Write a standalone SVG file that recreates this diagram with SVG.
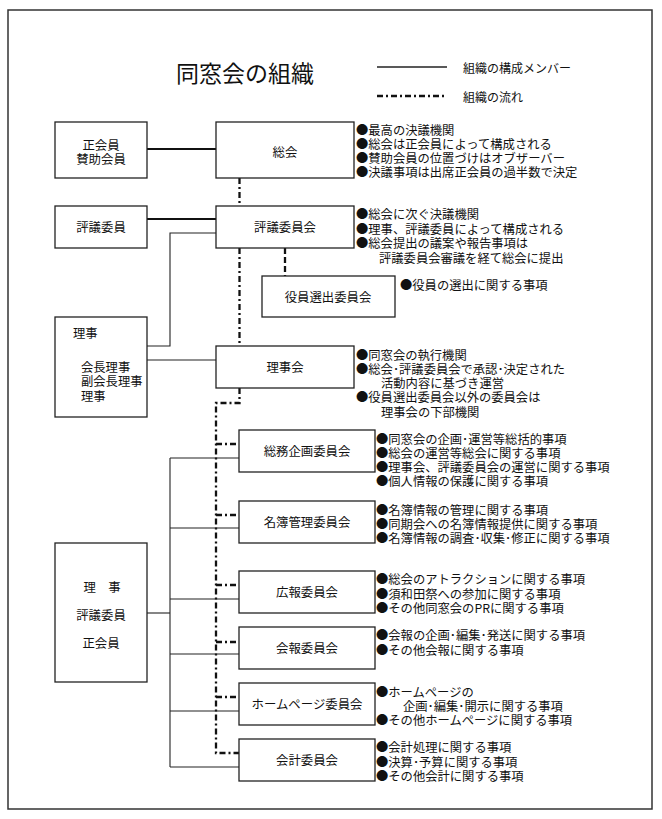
<svg xmlns="http://www.w3.org/2000/svg" width="662" height="819" viewBox="0 0 662 819">
<style>
text{font-family:"Noto Sans CJK JP","Noto Sans CJK SC",sans-serif;fill:#111;dominant-baseline:central}
.lb{font-size:12.4px;text-anchor:middle}
.nt{font-size:12.3px}
.box{fill:#fff;stroke:#222;stroke-width:1.3}
.thick{stroke:#111;stroke-width:2.2;fill:none}
.thin{stroke:#222;stroke-width:1.1;fill:none}
.dd{stroke:#111;stroke-width:2.3;fill:none;stroke-dasharray:6 3 2 3}
.dsh{stroke:#111;stroke-width:2.3;fill:none;stroke-dasharray:6 3}
</style>
<rect x="8" y="10" width="644" height="799" fill="#fff" stroke="#333" stroke-width="1.5"/>
<text x="245" y="72" style="font-size:23px;text-anchor:middle">同窓会の組織</text>
<g id="legend">
<line x1="377" y1="67" x2="447" y2="67" class="thin" style="stroke-width:1.3"/>
<text x="463" y="67" style="font-size:12px">組織の構成メンバー</text>
<line x1="377" y1="96" x2="447" y2="96" class="dd"/>
<text x="463" y="96" style="font-size:12px">組織の流れ</text>
</g>
<g id="connectors">
<line x1="147" y1="149" x2="216" y2="149" class="thick"/>
<line x1="147" y1="219" x2="216" y2="219" class="thick"/>
<polyline points="216,233 170,233 170,346 147,346" class="thin"/>
<line x1="147" y1="360" x2="216" y2="360" class="thin"/>
<line x1="239.5" y1="178" x2="239.5" y2="206" class="dd"/>
<line x1="239.5" y1="248" x2="239.5" y2="346" class="dd"/>
<line x1="285" y1="248" x2="285" y2="276" class="dsh"/>
<polyline points="239.5,388 239.5,403 216,403 216,753 239,753" class="dd"/>
<line x1="216" y1="444" x2="239" y2="444" class="dd"/>
<line x1="216" y1="515" x2="239" y2="515" class="dd"/>
<line x1="216" y1="585" x2="239" y2="585" class="dd"/>
<line x1="216" y1="642" x2="239" y2="642" class="dd"/>
<line x1="216" y1="697" x2="239" y2="697" class="dd"/>
<line x1="170" y1="458" x2="170" y2="767" class="thin"/>
<line x1="147" y1="613" x2="170" y2="613" class="thin"/>
<line x1="170" y1="458" x2="239" y2="458" class="thin"/>
<line x1="170" y1="528" x2="239" y2="528" class="thin"/>
<line x1="170" y1="599" x2="239" y2="599" class="thin"/>
<line x1="170" y1="654" x2="239" y2="654" class="thin"/>
<line x1="170" y1="711" x2="239" y2="711" class="thin"/>
<line x1="170" y1="767" x2="239" y2="767" class="thin"/>
</g>
<g id="n-seikaiin"><rect x="55" y="122" width="92" height="56" class="box"/><text x="101" y="145" class="lb">正会員</text><text x="101" y="159" class="lb">賛助会員</text></g>
<g id="n-sokai"><rect x="216" y="122" width="138" height="56" class="box"/><text x="285" y="152" class="lb">総会</text></g>
<g id="n-hyogiin"><rect x="55" y="206" width="92" height="42" class="box"/><text x="101" y="227" class="lb">評議委員</text></g>
<g id="n-hyogiinkai"><rect x="216" y="206" width="138" height="42" class="box"/><text x="285" y="227" class="lb">評議委員会</text></g>
<g id="n-yakuin"><rect x="262" y="276" width="133" height="41" class="box"/><text x="328" y="297" class="lb">役員選出委員会</text></g>
<g id="n-riji"><rect x="55" y="317" width="92" height="100" class="box"/><text x="73" y="333" class="nt">理事</text><text x="81" y="367" class="nt">会長理事</text><text x="81" y="381" class="nt">副会長理事</text><text x="81" y="396" class="nt">理事</text></g>
<g id="n-rijikai"><rect x="216" y="346" width="138" height="42" class="box"/><text x="285" y="367" class="lb">理事会</text></g>
<g id="n-members"><rect x="55" y="543" width="92" height="139" class="box"/><text x="102" y="587" class="lb">理　事</text><text x="101" y="615" class="lb">評議委員</text><text x="101" y="643" class="lb">正会員</text></g>
<g id="n-somu"><rect x="239" y="430" width="136" height="42" class="box"/><text x="307" y="451" class="lb">総務企画委員会</text></g>
<g id="n-meibo"><rect x="239" y="501" width="136" height="42" class="box"/><text x="307" y="522" class="lb">名簿管理委員会</text></g>
<g id="n-koho"><rect x="239" y="571" width="136" height="42" class="box"/><text x="307" y="592" class="lb">広報委員会</text></g>
<g id="n-kaiho"><rect x="239" y="627" width="136" height="42" class="box"/><text x="307" y="648" class="lb">会報委員会</text></g>
<g id="n-hp"><rect x="239" y="683" width="136" height="42" class="box"/><text x="307" y="704" class="lb">ホームページ委員会</text></g>
<g id="n-kaikei"><rect x="239" y="739" width="136" height="42" class="box"/><text x="307" y="760" class="lb">会計委員会</text></g>
<g id="notes">
<text x="356" y="130" class="nt">●最高の決議機関</text>
<text x="356" y="144" class="nt">●総会は正会員によって構成される</text>
<text x="356" y="158" class="nt">●賛助会員の位置づけはオブザーバー</text>
<text x="356" y="172" class="nt">●決議事項は出席正会員の過半数で決定</text>
<text x="356" y="214" class="nt">●総会に次ぐ決議機関</text>
<text x="356" y="228.5" class="nt">●理事、評議委員によって構成される</text>
<text x="356" y="243" class="nt">●総会提出の議案や報告事項は</text>
<text x="379" y="257.5" class="nt">評議委員会審議を経て総会に提出</text>
<text x="400" y="285" class="nt">●役員の選出に関する事項</text>
<text x="356" y="355" class="nt">●同窓会の執行機関</text>
<text x="356" y="369" class="nt">●総会･評議委員会で承認･決定された</text>
<text x="381" y="383" class="nt">活動内容に基づき運営</text>
<text x="356" y="397" class="nt">●役員選出委員会以外の委員会は</text>
<text x="381" y="411.5" class="nt">理事会の下部機関</text>
<text x="376" y="438.5" class="nt">●同窓会の企画･運営等総括的事項</text>
<text x="376" y="452.5" class="nt">●総会の運営等総会に関する事項</text>
<text x="376" y="466.5" class="nt">●理事会、評議委員会の運営に関する事項</text>
<text x="376" y="480.5" class="nt">●個人情報の保護に関する事項</text>
<text x="376" y="510" class="nt">●名簿情報の管理に関する事項</text>
<text x="376" y="524" class="nt">●同期会への名簿情報提供に関する事項</text>
<text x="376" y="538" class="nt">●名簿情報の調査･収集･修正に関する事項</text>
<text x="376" y="579" class="nt">●総会のアトラクションに関する事項</text>
<text x="376" y="593.5" class="nt">●須和田祭への参加に関する事項</text>
<text x="376" y="608" class="nt">●その他同窓会のPRに関する事項</text>
<text x="376" y="635" class="nt">●会報の企画･編集･発送に関する事項</text>
<text x="376" y="650" class="nt">●その他会報に関する事項</text>
<text x="376" y="692" class="nt">●ホームページの</text>
<text x="403" y="706" class="nt">企画･編集･開示に関する事項</text>
<text x="376" y="720" class="nt">●その他ホームページに関する事項</text>
<text x="376" y="747" class="nt">●会計処理に関する事項</text>
<text x="376" y="761.5" class="nt">●決算･予算に関する事項</text>
<text x="376" y="776" class="nt">●その他会計に関する事項</text>
</g>
</svg>
